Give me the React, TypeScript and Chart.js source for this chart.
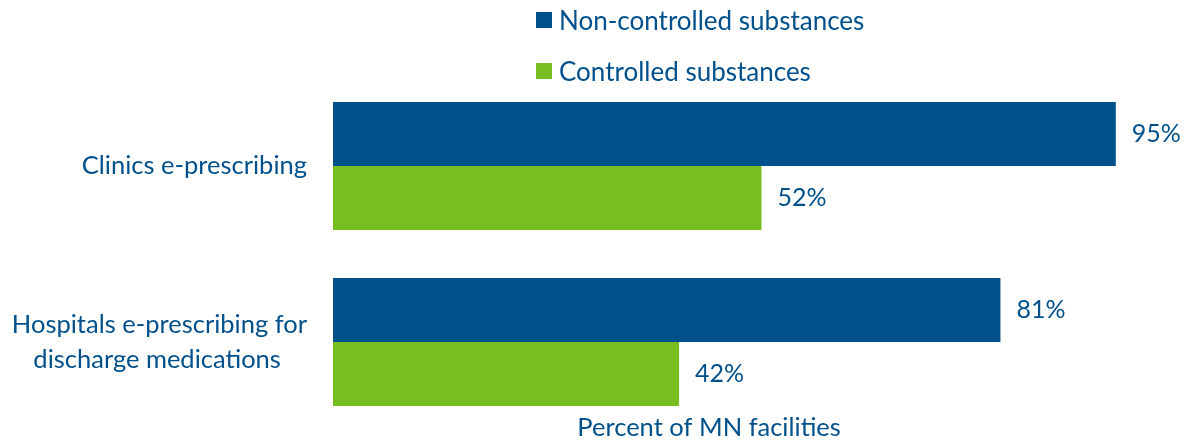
import React, { useEffect, useRef } from "react";
import { Chart, registerables } from "chart.js";

Chart.register(...registerables);

const categories: (string | string[])[] = [
  "Clinics e-prescribing",
  ["Hospitals e-prescribing for", "discharge medications"],
];
const seriesNames = ["Non-controlled substances", "Controlled substances"];
const nonControlled = [95, 81];
const controlled = [52, 42];
const seriesColors = ["#00508C", "#78BE20"];
const axisTitle = "Percent of MN facilities";

const TEXT = "#00508C";
const FONT = "Lato, 'Open Sans', sans-serif";
const TICK_SIZE = 25.5;

function measurer() {
  const c = document.createElement("canvas").getContext("2d")!;
  c.font = `${TICK_SIZE}px ${FONT}`;
  return c;
}

// centre the lines of a multi-line label inside a right-aligned block
function centreLines(lines: string[]): string[] {
  const c = measurer();
  const widths = lines.map((l) => c.measureText(l).width);
  const widest = Math.max(...widths);
  const sp = c.measureText(" ").width;
  return lines.map((l, i) => {
    const n = Math.round((widest - widths[i]) / 2 / sp);
    return l + " ".repeat(Math.max(0, n));
  });
}

// shift a centred title to the left by a given number of pixels
function shiftLeft(text: string, px: number): string {
  const c = measurer();
  const sp = c.measureText(" ").width;
  return text + " ".repeat(Math.round((2 * px) / sp));
}

const valueLabels = {
  id: "valueLabels",
  afterDatasetsDraw(chart: any) {
    const ctx = chart.ctx;
    ctx.save();
    ctx.font = `25px ${FONT}`;
    ctx.fillStyle = TEXT;
    ctx.textAlign = "left";
    ctx.textBaseline = "middle";
    chart.data.datasets.forEach((ds: any, di: number) => {
      const meta = chart.getDatasetMeta(di);
      meta.data.forEach((el: any, i: number) => {
        ctx.fillText(`${ds.data[i]}%`, el.x + 16, el.y);
      });
    });
    ctx.restore();
  },
};

export default function App() {
  const ref = useRef<HTMLCanvasElement>(null);
  useEffect(() => {
    if (!ref.current) return;
    const chart = new Chart(ref.current, {
      type: "bar",
      data: {
        labels: categories,
        datasets: [
          {
            label: seriesNames[0],
            data: nonControlled,
            backgroundColor: seriesColors[0],
            categoryPercentage: 0.7273,
            barPercentage: 1,
          },
          {
            label: seriesNames[1],
            data: controlled,
            backgroundColor: seriesColors[1],
            categoryPercentage: 0.7273,
            barPercentage: 1,
          },
        ],
      },
      options: {
        indexAxis: "y",
        animation: false,
        responsive: false,
        layout: { padding: { left: 0, right: 29, top: 78, bottom: 0 } },
        plugins: { legend: { display: false }, tooltip: { enabled: false } },
        scales: {
          x: {
            min: 0,
            max: 100,
            grid: { display: false, drawTicks: false },
            border: { display: false },
            ticks: { display: false },
            title: {
              display: true,
              text: shiftLeft(axisTitle, 37),
              color: TEXT,
              font: { family: FONT, size: TICK_SIZE, lineHeight: 1.2 },
              padding: 0,
            },
            afterFit: (s: any) => {
              s.height = 13;
              s.paddingLeft = 0;
              s.paddingRight = 0;
            },
          },
          y: {
            grid: { display: false, drawTicks: false },
            border: { display: false },
            ticks: {
              color: TEXT,
              padding: 26,
              font: { family: FONT, size: TICK_SIZE, lineHeight: 1.37 },
              callback: function (this: any, _v: any, i: number) {
                const lab = categories[i];
                return Array.isArray(lab) ? centreLines(lab) : lab;
              },
            },
            afterFit: (s: any) => {
              s.width = 333;
              s.paddingTop = 0;
              s.paddingBottom = 0;
            },
          },
        },
      },
      plugins: [valueLabels],
    });
    return () => chart.destroy();
  }, []);

  return (
    <div style={{ position: "absolute", left: 0, top: 0, width: 1186, height: 443, background: "#fff" }}>
      <canvas ref={ref} width={1186} height={443} style={{ display: "block" }} />
      <div style={{ position: "absolute", left: 536, top: 0 }}>
        {seriesNames.map((name, i) => (
          <div
            key={name}
            style={{
              position: "absolute",
              left: 0,
              top: i === 0 ? 12 : 63,
              height: 16,
              display: "flex",
              alignItems: "center",
              whiteSpace: "nowrap",
            }}
          >
            <span style={{ width: 16, height: 16, background: seriesColors[i], display: "inline-block", flex: "none" }} />
            <span style={{ marginLeft: 7, fontFamily: FONT, fontSize: 26, color: TEXT, lineHeight: "16px" }}>{name}</span>
          </div>
        ))}
      </div>
    </div>
  );
}
